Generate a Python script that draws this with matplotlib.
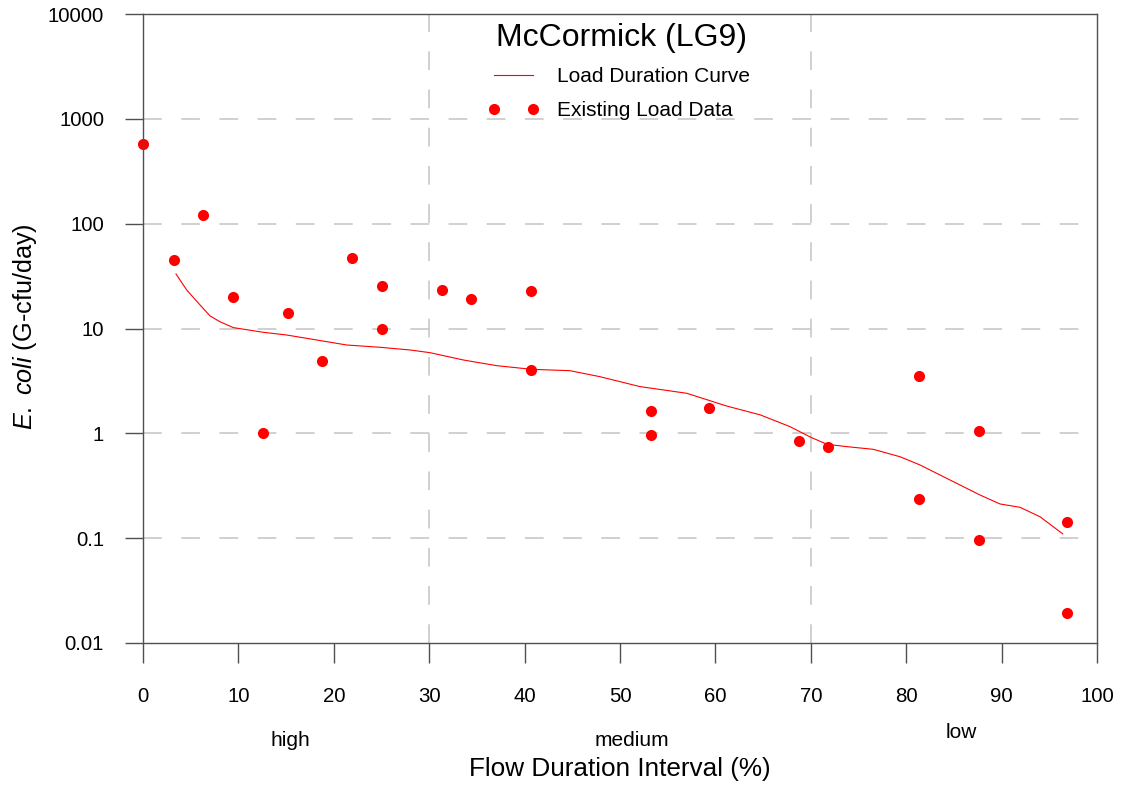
import matplotlib
matplotlib.use("Agg")
import matplotlib.pyplot as plt
from matplotlib.ticker import NullLocator
from matplotlib.transforms import blended_transform_factory

plt.rcParams["font.family"] = ["Liberation Sans", "DejaVu Sans"]
plt.rcParams["mathtext.fontset"] = "custom"
plt.rcParams["mathtext.rm"] = "Liberation Sans"
plt.rcParams["mathtext.it"] = "Liberation Sans:italic"
plt.rcParams["lines.scale_dashes"] = False

# Flow duration interval (%) and E. coli load (G-cfu/day) of the sampled events
sample_x = [0.0, 3.25, 6.3, 9.45, 12.6, 15.2, 18.8, 21.9, 25.05, 25.05,
            31.3, 34.4, 40.7, 40.7, 53.2, 53.2, 59.3, 68.8, 71.8,
            81.3, 81.3, 87.6, 87.6, 96.9, 96.9]
sample_load = [575, 45, 121, 20, 1.0, 14.1, 4.9, 47, 25.5, 10,
               23.3, 19.1, 23, 4.0, 1.63, 0.96, 1.75, 0.845, 0.74,
               3.5, 0.237, 1.05, 0.096, 0.143, 0.0193]

# Load duration curve
ldc_x = [3.46, 4.58, 5.97, 7.02, 8.07, 9.47, 12.61, 15.06, 18.21, 21.35, 24.84,
         27.99, 30.08, 33.57, 37.08, 40.74, 44.76, 47.9, 52.1, 57.0, 61.2, 64.7,
         67.8, 70.0, 71.7, 73.8, 76.55, 79.35, 81.45, 84.94, 87.74, 89.83,
         91.93, 94.03, 96.4]
ldc_load = [33.1, 23.3, 16.8, 13.2, 11.6, 10.2, 9.2, 8.67, 7.77, 6.96, 6.62,
            6.24, 5.88, 5.01, 4.42, 4.08, 3.96, 3.47, 2.79, 2.41, 1.82, 1.50,
            1.16, 0.917, 0.786, 0.746, 0.704, 0.598, 0.499, 0.346, 0.258, 0.212,
            0.197, 0.160, 0.110]

x_ticks = [0, 10, 20, 30, 40, 50, 60, 70, 80, 90, 100]
y_ticks = [0.01, 0.1, 1, 10, 100, 1000, 10000]
y_tick_labels = ["0.01", "0.1", "1", "10", "100", "1000", "10000"]
y_gridlines = [0.1, 1, 10, 100, 1000]
zone_bounds = [30, 70]
zone_names = ["high", "medium", "low"]
zone_centers = [15.4, 51.2, 85.8]

W, H = 1121, 790
fig = plt.figure(figsize=(W / 100, H / 100), dpi=100)
ax = fig.add_axes([143 / W, 1 - 643 / H, (1097 - 143) / W, (643 - 14) / H])

ax.set_yscale("log")
ax.set_xlim(0, 100)
ax.set_ylim(0.01, 10000)
ax.set_xticks(x_ticks)
ax.set_yticks(y_ticks)
ax.set_yticklabels(y_tick_labels)
ax.yaxis.set_minor_locator(NullLocator())
ax.xaxis.set_minor_locator(NullLocator())

spine_col = "#505050"
for s in ax.spines.values():
    s.set_color(spine_col)
    s.set_linewidth(1.0)
    s.set_zorder(5)
ax.tick_params(axis="x", direction="out", length=14.4, width=1.0, color=spine_col,
               pad=17, labelsize=14.7)
ax.tick_params(axis="y", direction="out", length=13, width=1.0, color=spine_col,
               pad=15, labelsize=14.7)

grid_kw = dict(color="#c4c4c4", linewidth=1.1, linestyle=(0, (13.5, 14)), zorder=0.5)
for g in y_gridlines:
    ax.axhline(g, **grid_kw)
for b in zone_bounds:
    ax.axvline(b, **grid_kw)

ax.plot(ldc_x, ldc_load, color="#ff0000", linewidth=0.8, label="Load Duration Curve",
        zorder=3)
ax.plot(sample_x, sample_load, linestyle="none", marker="o", markersize=8,
        color="#ff0000", markeredgewidth=0, label="Existing Load Data",
        clip_on=False, zorder=4)

fig.text(622 / W, 1 - 46 / H, "McCormick (LG9)", fontsize=23, ha="center",
         va="baseline")

ax.legend(loc="upper left", bbox_to_anchor=(487.75 / W, 1 - 67 / H),
          bbox_transform=fig.transFigure, frameon=False, fontsize=15,
          numpoints=2, handlelength=2.48, handletextpad=0.85, borderpad=0,
          borderaxespad=0, labelspacing=0.74)

ax.set_xlabel("Flow Duration Interval (%)", fontsize=18.8)
ax.xaxis.set_label_coords(0.5, (643 - 757) / 629)
ax.set_ylabel(r"$E.\ coli$ (G-cfu/day)", fontsize=18.2)
ax.yaxis.set_label_coords((39 - 143) / 954, 0.503)

trans = blended_transform_factory(ax.transData, fig.transFigure)
zone_y = [1 - 740 / H, 1 - 740 / H, 1 - 733 / H]
for name, cx, yy in zip(zone_names, zone_centers, zone_y):
    ax.text(cx, yy, name, transform=trans, ha="center", va="center", fontsize=15)

fig.savefig("out.png", dpi=100)
